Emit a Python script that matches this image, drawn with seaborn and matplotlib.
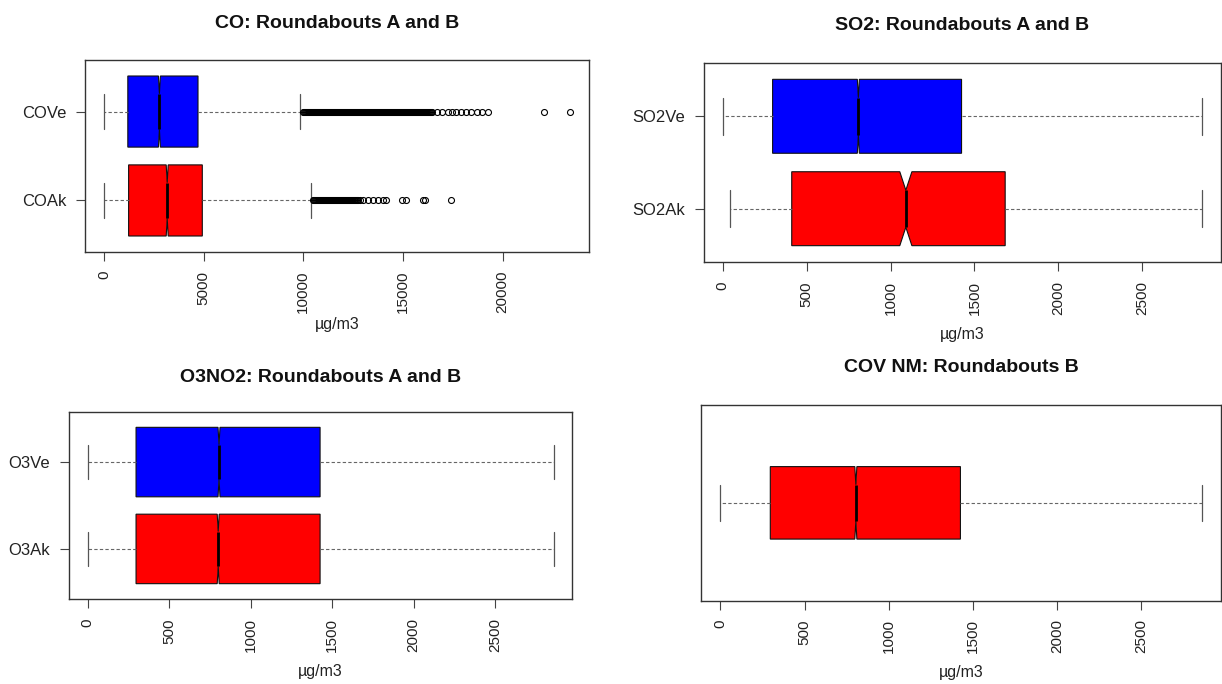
import numpy as np
import pandas as pd
import matplotlib
matplotlib.use('Agg')
import matplotlib.pyplot as plt
import seaborn as sns

co_names = ['COVe', 'COAk']
co_stats = [[0, 1194, 2779, 4716, 9850],
            [0, 1233, 3170, 4932, 10400]]
co_counts = [2430, 2690]  # copias de cada valor resumen (da el ancho de la muesca)
# atípicos: la franja negra continua y los puntos sueltos del final
cove_outliers = [10010, 10050, 10100, 10150, 10200, 10250, 10300, 10350, 10400, 10450,
                 10500, 10550, 10600, 10650, 10700, 10750, 10800, 10850, 10900, 10950,
                 11000, 11050, 11100, 11150, 11200, 11250, 11300, 11350, 11400, 11450,
                 11500, 11550, 11600, 11650, 11700, 11750, 11800, 11850, 11900, 11950,
                 12000, 12050, 12100, 12150, 12200, 12250, 12300, 12350, 12400, 12450,
                 12500, 12550, 12600, 12650, 12700, 12750, 12800, 12850, 12900, 12950,
                 13000, 13050, 13100, 13150, 13200, 13250, 13300, 13350, 13400, 13450,
                 13500, 13550, 13600, 13650, 13700, 13750, 13800, 13850, 13900, 13950,
                 14000, 14050, 14100, 14150, 14200, 14250, 14300, 14350, 14400, 14450,
                 14500, 14550, 14600, 14650, 14700, 14750, 14800, 14850, 14900, 14950,
                 15000, 15050, 15100, 15150, 15200, 15250, 15300, 15350, 15400, 15450,
                 15500, 15550, 15600, 15650, 15700, 15750, 15800, 15850, 15900, 15950,
                 16000, 16050, 16100, 16150, 16200, 16250, 16300, 16350, 16400, 16450,
                 16710, 16960, 17270, 17440, 17690, 17940, 18190, 18440, 18700, 18950,
                 19280, 22080, 23390]
coak_outliers = [10500, 10550, 10600, 10650, 10700, 10750, 10800, 10850, 10900, 10950,
                 11000, 11050, 11100, 11150, 11200, 11250, 11300, 11350, 11400, 11450,
                 11500, 11550, 11600, 11650, 11700, 11750, 11800, 11850, 11900, 11950,
                 12000, 12050, 12100, 12150, 12200, 12250, 12300, 12350, 12400, 12450,
                 12500, 12550, 12600, 12650, 12700, 12750,
                 12830, 13000, 13250, 13500, 13750, 14000, 14170, 14930, 15170,
                 16000, 16100, 17400]

so2_names = ['SO2Ve', 'SO2Ak']
so2_stats = [[0, 297, 808, 1423, 2855],
             [42, 411, 1091, 1683, 2855]]
so2_counts = [17000, 615]

o3_names = ['O3Ve', 'O3Ak']
o3_stats = [[0, 297, 806, 1426, 2859],
            [0, 297, 801, 1426, 2859]]
o3_counts = [17000, 17000]

covnm_names = ['COV NM']
covnm_stats = [[0, 296, 804, 1425, 2858]]
covnm_counts = [17000]

co_ticks = [0, 5000, 10000, 15000, 20000]
ppm_ticks = [0, 500, 1000, 1500, 2000, 2500]

BLUE = '#0000FF'
RED = '#FF0000'

sns.set_style('white')
plt.rcParams['font.family'] = ['Liberation Sans', 'DejaVu Sans']

W, H = 1222, 684
fig = plt.figure(figsize=(W / 100, H / 100), dpi=100)
fig.patch.set_facecolor('white')


def make_frame(names, stats, counts, outliers):
    parts = []
    for name, st, n, out in zip(names, stats, counts, outliers):
        vals = np.concatenate([np.repeat(np.array(st, dtype=float), n), np.array(out, dtype=float)])
        parts.append(pd.DataFrame({'value': vals, 'group': name}))
    return pd.concat(parts, ignore_index=True)


def draw(rect, df, names, colors, title, ticks, width, ylim, title_pad, show_y=True):
    ax = fig.add_axes(rect)
    sns.boxplot(data=df, x='value', y='group', hue='group', order=names, hue_order=names,
                palette=colors, saturation=1, orient='h', width=width, notch=True, whis=1.5,
                linecolor='black', linewidth=0.8, fliersize=4.3, legend=False, ax=ax,
                boxprops=dict(edgecolor='#111111', linewidth=0.8),
                medianprops=dict(color='black', linewidth=2.0),
                whiskerprops=dict(color='#666666', linewidth=0.8, linestyle=(0, (3, 2))),
                capprops=dict(color='#555555', linewidth=0.9),
                flierprops=dict(marker='o', markerfacecolor='none',
                                markeredgecolor='black', markeredgewidth=0.8))
    lo, hi = df['value'].min(), df['value'].max()
    r = hi - lo
    ax.set_xlim(lo - 0.04 * r, hi + 0.04 * r)
    ax.set_ylim(*ylim)
    ax.set_xticks(ticks)
    ax.set_xticklabels([str(t) for t in ticks], rotation=90)
    ax.tick_params(axis='both', bottom=True, left=show_y, length=6.5, width=0.8,
                   color='#444444', labelcolor='#222222', pad=7)
    ax.tick_params(axis='x', labelsize=11)
    ax.tick_params(axis='y', labelsize=12)
    if not show_y:
        ax.set_yticks([])
    ax.set_ylabel('')
    ax.set_xlabel('µg/m3', fontsize=11.5, color='#222222')
    ax.xaxis.set_label_coords(0.5, -72 / (rect[3] * H))
    ax.xaxis.label.set_va('center')
    for sp in ax.spines.values():
        sp.set_visible(True)
        sp.set_color('#333333')
        sp.set_linewidth(1.0)
    ax.set_title(title, fontsize=14, fontweight='bold', pad=title_pad, color='#111111')
    return ax


co_df = make_frame(co_names, co_stats, co_counts, [cove_outliers, coak_outliers])
so2_df = make_frame(so2_names, so2_stats, so2_counts, [[], []])
o3_df = make_frame(o3_names, o3_stats, o3_counts, [[], []])
covnm_df = make_frame(covnm_names, covnm_stats, covnm_counts, [[]])

draw([85.4 / W, 1 - 252 / H, 503.3 / W, 192 / H], co_df, co_names, [BLUE, RED],
     'CO: Roundabouts A and B', co_ticks, 0.8, (1.58, -0.58), 23)
draw([703.6 / W, 1 - 262.3 / H, 517.4 / W, 199.6 / H], so2_df, so2_names, [BLUE, RED],
     'SO2: Roundabouts A and B', ppm_ticks, 0.8, (1.58, -0.58), 23.5)
draw([69 / W, 1 - 599.3 / H, 503.3 / W, 187.6 / H], o3_df, o3_names, [BLUE, RED],
     'O3NO2: Roundabouts A and B', ppm_ticks, 0.8, (1.58, -0.58), 21.5)
draw([701.2 / W, 1 - 600.7 / H, 519.8 / W, 195.7 / H], covnm_df, covnm_names, [RED],
     'COV NM: Roundabouts B', ppm_ticks, 0.4, (0.54, -0.54), 23.5, show_y=False)

fig.savefig('out.png', dpi=100, facecolor='white')
